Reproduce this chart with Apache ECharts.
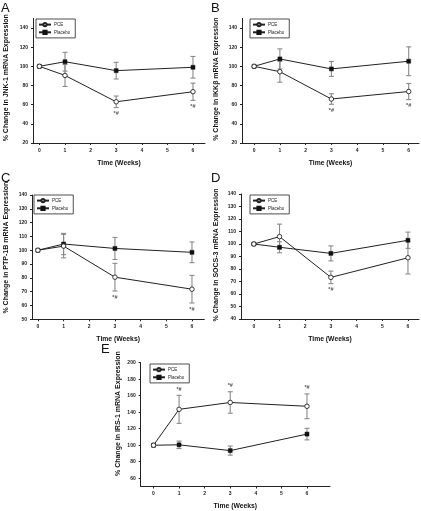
<!DOCTYPE html>
<html>
<head>
<meta charset="utf-8">
<script src="https://cdn.jsdelivr.net/npm/echarts@6/dist/echarts.min.js"></script>
<style>
html,body{margin:0;padding:0;background:#fff;}
#chart{width:421px;height:511px;}
</style>
</head>
<body>
<div id="chart"></div>
<script>
// ---- data ----
const weeks = [0, 1, 3, 6];
const xTicks = [0, 1, 2, 3, 4, 5, 6];

const jnkPCE = [100, 90.5, 63, 73.5];
const jnkPCEErr = [0, 11.5, 6, 9];
const jnkPlacebo = [100, 104.8, 95.5, 99];
const jnkPlaceboErr = [0, 9.8, 8.7, 11.3];
const jnkSigWeeks = [3, 6];
const jnkYTicks = [20, 40, 60, 80, 100, 120, 140];

const ikkPCE = [100, 94.4, 65.9, 73.7];
const ikkPCEErr = [0, 11, 5.5, 8.4];
const ikkPlacebo = [100, 107.7, 97.3, 105.3];
const ikkPlaceboErr = [0, 10.5, 7.8, 15];
const ikkSigWeeks = [3, 6];
const ikkYTicks = [20, 40, 60, 80, 100, 120, 140];

const ptpPCE = [100, 103, 80.5, 71.8];
const ptpPCEErr = [0, 8.5, 10, 10];
const ptpPlacebo = [100, 104.5, 101.3, 98.5];
const ptpPlaceboErr = [0, 7.7, 8, 7.5];
const ptpSigWeeks = [3, 6];
const ptpYTicks = [50, 60, 70, 80, 90, 100, 110, 120, 130, 140];

const socsPCE = [100, 105.9, 73.3, 89];
const socsPCEErr = [0, 10, 5, 13];
const socsPlacebo = [100, 97.4, 92.5, 103];
const socsPlaceboErr = [0, 4.4, 6, 6.5];
const socsSigWeeks = [3];
const socsYTicks = [40, 50, 60, 70, 80, 90, 100, 110, 120, 130, 140];

const irsPCE = [100, 143.5, 151.8, 147.2];
const irsPCEErr = [0, 17, 13, 15];
const irsPlacebo = [100, 100.5, 93.5, 113.5];
const irsPlaceboErr = [0, 4.5, 5.5, 7];
const irsSigWeeks = [1, 3, 6];
const irsYTicks = [60, 80, 100, 120, 140, 160, 180, 200];

const seriesNames = ['PCE', 'Placebo'];
const sigText = '*#';
const xTitle = 'Time (Weeks)';

// ---- panels ----
const panels = [
  {letter:'A', yName:'% Change in JNK-1 mRNA Expression', pce:jnkPCE, pceErr:jnkPCEErr, pla:jnkPlacebo, plaErr:jnkPlaceboErr, sig:jnkSigWeeks, yTicks:jnkYTicks, ymin:20, ymax:150, xmin:-0.25, xmax:6.47,
   grid:{left:33, top:18.4, width:172, height:124.6}, legend:{left:36, top:19}, letterPos:[1,2], nameGap:23, nameShift:6, sigUp:false},
  {letter:'B', yName:'% Change in IKKβ mRNA Expression', pce:ikkPCE, pceErr:ikkPCEErr, pla:ikkPlacebo, plaErr:ikkPlaceboErr, sig:ikkSigWeeks, yTicks:ikkYTicks, ymin:20, ymax:150, xmin:-0.47, xmax:6.4,
   grid:{left:242, top:18.4, width:177, height:124.6}, legend:{left:250, top:19}, letterPos:[211,2], nameGap:22, nameShift:3, sigUp:false},
  {letter:'C', yName:'% Change in PTP-1B mRNA Expression', pce:ptpPCE, pceErr:ptpPCEErr, pla:ptpPlacebo, plaErr:ptpPlaceboErr, sig:ptpSigWeeks, yTicks:ptpYTicks, ymin:50, ymax:140, xmin:-0.23, xmax:6.48,
   grid:{left:32, top:195, width:172.3, height:124.3}, legend:{left:34, top:195}, letterPos:[1,172], nameGap:22, nameShift:19, sigUp:false},
  {letter:'D', yName:'% Change in SOCS-3 mRNA Expression', pce:socsPCE, pceErr:socsPCEErr, pla:socsPlacebo, plaErr:socsPlaceboErr, sig:socsSigWeeks, yTicks:socsYTicks, ymin:40, ymax:140, xmin:-0.5, xmax:6.43,
   grid:{left:241, top:194, width:178, height:125}, legend:{left:250, top:195}, letterPos:[211,172], nameGap:21, nameShift:3, sigUp:false},
  {letter:'E', yName:'% Change in IRS-1 mRNA Expression', pce:irsPCE, pceErr:irsPCEErr, pla:irsPlacebo, plaErr:irsPlaceboErr, sig:irsSigWeeks, yTicks:irsYTicks, ymin:50, ymax:200, xmin:-0.5, xmax:6.9,
   grid:{left:140.7, top:362.7, width:189.3, height:124.6}, legend:{left:150, top:364}, letterPos:[101,343], nameGap:19, nameShift:22, sigUp:true}
];

const FONT = '"Liberation Sans", Arial, sans-serif';
const AX = '#222';

function errRender(params, api) {
  const x = api.value(0), y = api.value(1), e = api.value(2);
  if (!e) return null;
  const t = api.coord([x, y + e]);
  const b = api.coord([x, y - e]);
  const w = 2.5;
  const st = {stroke:'#8a8a8a', lineWidth:1.1};
  return {type:'group', children:[
    {type:'line', shape:{x1:t[0], y1:t[1], x2:b[0], y2:b[1]}, style:st},
    {type:'line', shape:{x1:t[0]-w, y1:t[1], x2:t[0]+w, y2:t[1]}, style:st},
    {type:'line', shape:{x1:b[0]-w, y1:b[1], x2:b[0]+w, y2:b[1]}, style:st}
  ]};
}

const grids = [], xAxes = [], yAxes = [], series = [], legends = [], graphics = [];

panels.forEach((p, i) => {
  grids.push(Object.assign({containLabel:false}, p.grid));
  xAxes.push({
    type:'value', gridIndex:i, min:p.xmin, max:p.xmax,
    name:xTitle, nameLocation:'middle', nameGap:16.5,
    nameTextStyle:{fontFamily:FONT, fontSize:6.8, fontWeight:'bold', color:'#111'},
    axisLine:{onZero:false, lineStyle:{color:AX, width:1}},
    axisTick:{show:true, length:2, customValues:xTicks, lineStyle:{color:AX}},
    axisLabel:{customValues:xTicks, fontFamily:FONT, fontSize:5, fontWeight:'bold', color:'#222', margin:5},
    splitLine:{show:false}
  });
  yAxes.push({
    type:'value', gridIndex:i, min:p.ymin, max:p.ymax,
    name:p.yName, nameLocation:'middle', nameGap:p.nameGap, nameRotate:90,
    nameTextStyle:{fontFamily:FONT, fontSize:7, fontWeight:'bold', color:'#111', padding:[0, 0, 0, p.nameShift]},
    axisLine:{onZero:false, lineStyle:{color:AX, width:1}},
    axisTick:{show:true, length:2, customValues:p.yTicks, lineStyle:{color:AX}},
    axisLabel:{customValues:p.yTicks, fontFamily:FONT, fontSize:5, fontWeight:'bold', color:'#222', margin:5},
    splitLine:{show:false}
  });
  // error bars
  series.push({
    type:'custom', xAxisIndex:i, yAxisIndex:i, renderItem:errRender, z:1,
    encode:{x:0, y:1}, silent:true,
    data:weeks.map((w, k) => [w, p.pla[k], p.plaErr[k]])
  });
  series.push({
    type:'custom', xAxisIndex:i, yAxisIndex:i, renderItem:errRender, z:1,
    encode:{x:0, y:1}, silent:true,
    data:weeks.map((w, k) => [w, p.pce[k], p.pceErr[k]])
  });
  series.push({
    name:'Placebo', type:'line', xAxisIndex:i, yAxisIndex:i, z:3,
    data:weeks.map((w, k) => [w, p.pla[k]]),
    symbol:'rect', symbolSize:4,
    lineStyle:{color:'#222', width:1},
    itemStyle:{color:'#111', borderColor:'#111', borderWidth:0.5},
    emphasis:{disabled:true}, animation:false
  });
  series.push({
    name:'PCE', type:'line', xAxisIndex:i, yAxisIndex:i, z:4,
    data:weeks.map((w, k) => [w, p.pce[k]]),
    symbol:'circle', symbolSize:4.5, showAllSymbol:true,
    lineStyle:{color:'#222', width:1},
    itemStyle:{color:'#fff', borderColor:'#222', borderWidth:0.9},
    emphasis:{disabled:true}, animation:false
  });
  // significance marks
  series.push({
    type:'scatter', xAxisIndex:i, yAxisIndex:i, z:5, symbol:'circle', symbolSize:1, silent:true,
    itemStyle:{color:'rgba(0,0,0,0)'},
    data:p.sig.map(w => {
      const k = weeks.indexOf(w);
      return [w, p.sigUp ? p.pce[k] + p.pceErr[k] : p.pce[k] - p.pceErr[k]];
    }),
    label:{show:true, formatter:sigText, position:p.sigUp ? 'top' : 'bottom', distance:2.5,
      fontFamily:FONT, fontSize:5.5, fontWeight:'bold', color:'#222'}
  });
  legends.push({
    data:['PCE', 'Placebo'], orient:'vertical', left:p.legend.left, top:p.legend.top,
    itemWidth:12, itemHeight:4, itemGap:2.5, padding:[3, 5, 3, 2],
    borderColor:'#222', borderWidth:0.8, selectedMode:false,
    textStyle:{fontFamily:FONT, fontSize:4.5, color:'#222', padding:[0,0,0,-2]}
  });
  graphics.push({
    type:'text', left:p.letterPos[0], top:p.letterPos[1],
    style:{text:p.letter, fontFamily:FONT, fontSize:13, fill:'#111'}
  });
});

const chart = echarts.init(document.getElementById('chart'), null, {renderer:'canvas'});
chart.setOption({
  animation:false,
  backgroundColor:'#fff',
  grid:grids, xAxis:xAxes, yAxis:yAxes, series:series, legend:legends, graphic:graphics
});
</script>
</body>
</html>
